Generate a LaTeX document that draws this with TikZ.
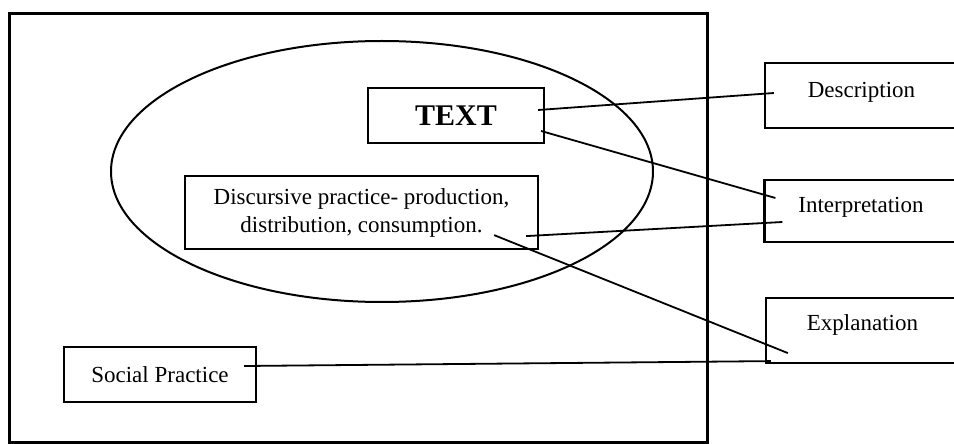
\documentclass[tikz,border=0pt]{standalone}
\usepackage{fontspec}
\setmainfont{Liberation Serif}
\usetikzlibrary{calc}

\begin{document}
\begin{tikzpicture}[x=0.5pt,y=-0.5pt,
    box/.style={draw,line width=1.1pt,inner sep=0pt,font=\fontsize{11.5}{14}\selectfont},
    sidebox/.style={box,minimum width=96.5pt,minimum height=32.5pt,text depth=6pt},
    link/.style={line width=0.9pt}]
    \useasboundingbox (0,0) rectangle (954,444);
    \draw[line width=1.5pt] (9,14) rectangle (707,442);
    \draw[line width=1pt] (382,171.5) ellipse [x radius=135.5pt,y radius=65.25pt];
    % boxes inside the frame
    \node[box,minimum width=88pt,minimum height=27.5pt,font=\fontsize{15}{18}\selectfont\bfseries] (textbox) at (456,115.5) {TEXT};
    \node[box,minimum width=176.5pt,minimum height=36.5pt,align=center] (discourse) at (361.5,212.5) {Discursive practice- production,\\ distribution, consumption.};
    \node[box,minimum width=96pt,minimum height=27.5pt] (social) at (160,374.5) {Social Practice};
    % boxes on the right
    \node[sidebox] (description) at (861.5,95.5) {Description};
    \node[sidebox,minimum height=31pt] (interpretation) at (861,211) {Interpretation};
    \node[sidebox,text depth=8pt] (explanation) at (862.5,330.5) {Explanation};
    % links
    \draw[link] ($(textbox.east)+(-7,-5.5)$) -- ($(description.west)+(10,-2.5)$);
    \draw[link] ($(textbox.east)+(-4,15.5)$) -- ($(interpretation.west)+(12,-13)$);
    \draw[link] ($(discourse.south east)+(-13,-14)$) -- ($(interpretation.west)+(19,11)$);
    \draw[link] ($(discourse.south east)+(-45,-15)$) -- ($(explanation.south west)+(23,-11)$);
    \draw[link] ($(social.east)+(-13,-8.5)$) -- ($(explanation.south west)+(6,-3)$);
\end{tikzpicture}
\end{document}
